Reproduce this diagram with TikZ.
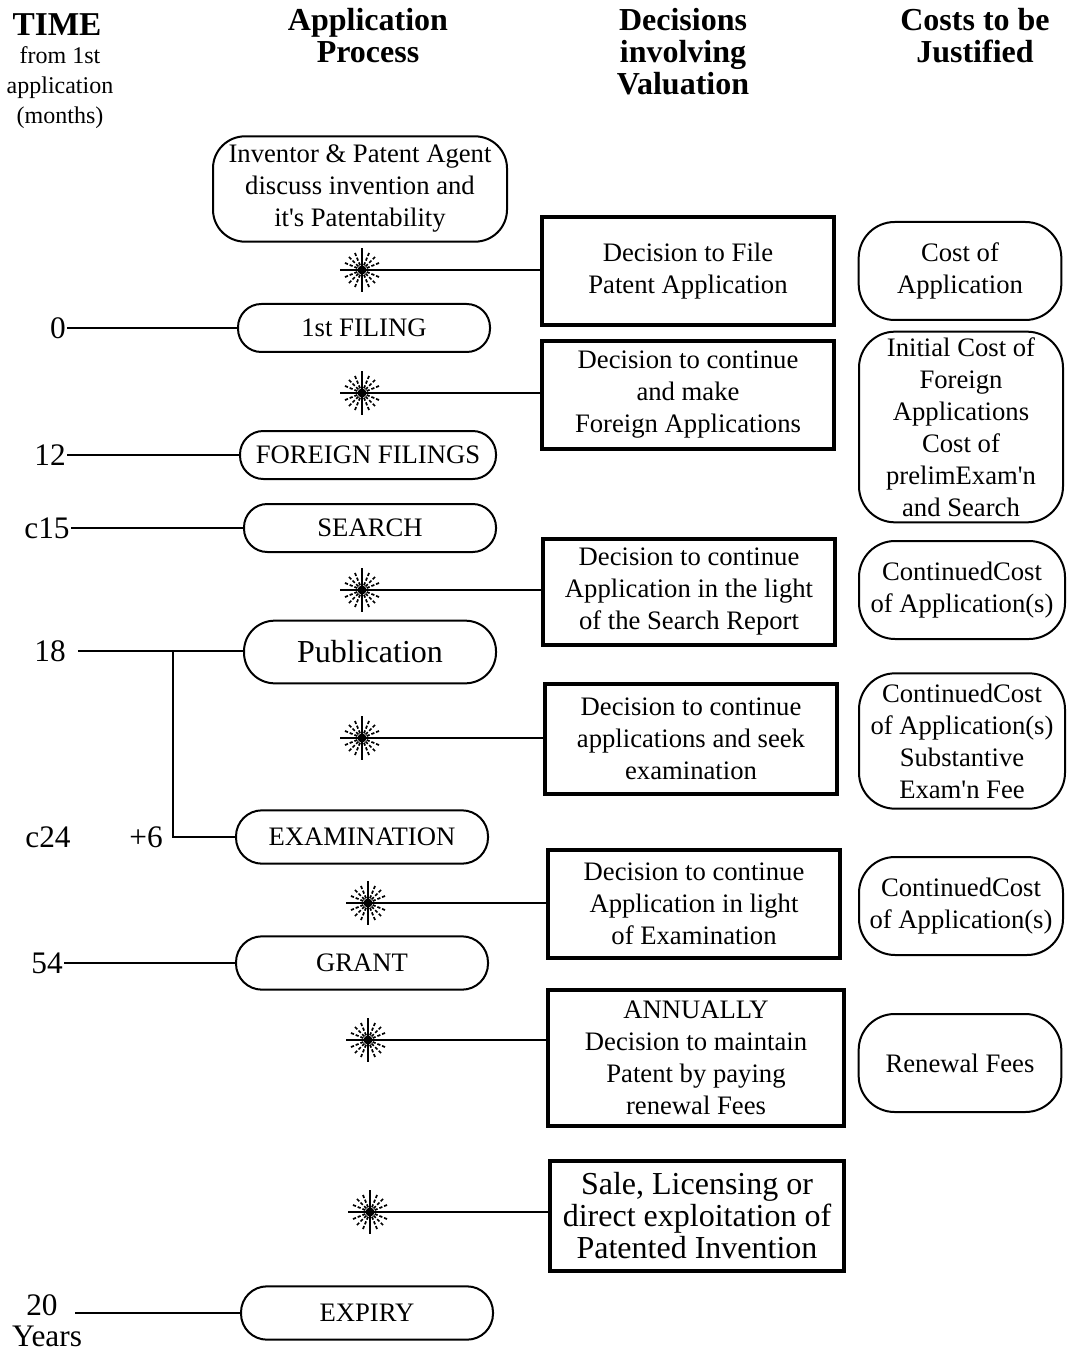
\documentclass[tikz,border=0pt]{standalone}
\usepackage{fontspec}
\setmainfont{Liberation Serif}
\usetikzlibrary{positioning}

% sunburst marking a decision point on the time line
\newcommand{\burst}[1]{%
  \foreach \a in {0,90,180,270}{\draw[line width=1.5pt] (#1) -- ++(\a:22);}
  \foreach \a in {22.5,45,67.5,112.5,135,157.5,202.5,225,247.5,292.5,315,337.5}{%
    \draw[line width=1.3pt, dash pattern=on 2.4pt off 1.4pt] (#1) -- ++(\a:19);}
  \fill (#1) circle (4.5);
}

\begin{document}
\begin{tikzpicture}[
    x=0.75pt, y=-0.75pt, % work in pixels of the page
    proc/.style  = {draw, line width=1.5pt, rounded corners=17.5pt, minimum width=189pt,
                    minimum height=36pt, inner sep=0pt, align=center,
                    font=\fontsize{20}{24}\selectfont},
    tallproc/.style = {proc, rounded corners=19.5pt, minimum height=40pt},
    dec/.style   = {draw, line width=3pt, minimum width=219pt, minimum height=81pt,
                    inner sep=0pt, align=center, font=\fontsize{20}{24}\selectfont},
    cost/.style  = {draw, line width=1.5pt, rounded corners=27pt, minimum width=152pt,
                    minimum height=73.5pt, inner sep=0pt, align=center,
                    font=\fontsize{20}{24}\selectfont},
    hdr/.style   = {align=center, font=\bfseries\fontsize{24}{24}\selectfont},
    tlab/.style  = {inner sep=1pt, font=\fontsize{23.5}{24}\selectfont},
    conn/.style  = {line width=1.5pt}
  ]
  \useasboundingbox (0,0) rectangle (1067,1351);

  % ===== Headers =====
  \node[hdr, font=\bfseries\fontsize{25}{24}\selectfont] (hTime) at (57,25) {TIME};
  \node[align=center, font=\fontsize{18}{22.5}\selectfont] (hTimeSub) at (60,88)
       {from 1st\\application\\(months)};
  \node[hdr] (hProc) at (368,36) {Application\\Process};
  \node[hdr] (hDec)  at (683,52) {Decisions\\involving\\Valuation};
  \node[hdr] (hCost) at (975,36) {Costs to be\\Justified};

  % ===== Application process =====
  \node[proc, rounded corners=24pt, minimum width=220.5pt, minimum height=79pt]
       (p0) at (360,189)
       {Inventor \& Patent Agent\\discuss invention and\\it\textquotesingle s Patentability};
  \node[proc] (p1) at (364,328) {1st FILING};
  \node[proc, minimum width=192pt] (p2) at (368,455) {FOREIGN FILINGS};
  \node[proc] (p3) at (370,528) {SEARCH};
  \node[proc, rounded corners=23pt, minimum height=47pt,
        font=\fontsize{24}{24}\selectfont] (p4) at (370,652) {Publication};
  \node[tallproc] (p5) at (362,837) {EXAMINATION};
  \node[tallproc] (p6) at (362,963) {GRANT};
  \node[tallproc] (p7) at (367,1313) {EXPIRY};

  % ===== Time axis =====
  \node[tlab] (t0)   at (58,328)  {0};
  \node[tlab] (t12)  at (50,455)  {12};
  \node[tlab] (t15)  at (47,528)  {c15};
  \node[tlab] (t18)  at (50,651)  {18};
  \node[tlab] (t24)  at (48,837)  {c24};
  \node[tlab] (t6)   at (146,837) {+6};
  \node[tlab] (t54)  at (47,963)  {54};
  \node[tlab] (t20)  at (42,1305) {20};
  \node[tlab] (tyrs) at (47,1336) {Years};

  \draw[conn] (t0.east)  -- (t0.east -| p1.west);
  \draw[conn] (t12.east) -- (t12.east -| p2.west);
  \draw[conn] (t15.east) -- (t15.east -| p3.west);
  \draw[conn, shorten <=8pt] (t18.east) -- (t18.east -| p4.west);
  \draw[conn] (t54.east) -- (t54.east -| p6.west);
  \coordinate (bend) at (173,651);
  \draw[conn] (bend) |- (p5.west);
  \coordinate (t20e) at (75,1313);
  \draw[conn] (t20e) -- (p7.west);

  % ===== Decisions =====
  \node[dec] (d1) at (688,271)
       {Decision to File\\Patent Application};
  \node[dec] (d2) at (688,395)
       {Decision to continue\\and make\\ Foreign Applications};
  \node[dec, minimum height=79.5pt] (d3) at (689,592)
       {Decision to continue\\Application in the light\\of the Search Report};
  \node[dec, minimum height=82pt] (d4) at (691,739)
       {Decision to continue\\applications and seek\\examination};
  \node[dec] (d5) at (694,904)
       {Decision to continue\\Application in light\\of Examination};
  \node[dec, minimum width=222pt, minimum height=102pt] (d6) at (696,1058)
       {ANNUALLY\\Decision to maintain\\Patent by paying\\renewal Fees};
  \node[dec, minimum width=220.5pt, minimum height=82pt,
        font=\fontsize{24}{24}\selectfont] (d7) at (697,1216)
       {Sale, Licensing or\\direct exploitation of\\Patented Invention};

  % ===== Decision points =====
  \coordinate (s1) at (362,270);
  \coordinate (s2) at (362,393);
  \coordinate (s3) at (362,590);
  \coordinate (s4) at (362,738);
  \coordinate (s5) at (368,903);
  \coordinate (s6) at (368,1040);
  \coordinate (s7) at (370,1212);
  \foreach \s/\d in {s1/d1, s2/d2, s3/d3, s4/d4, s5/d5, s6/d6, s7/d7}{
    \burst{\s}
    \draw[conn] (\s) -- (\s -| \d.west);
  }

  % ===== Costs =====
  \node[cost] (c1) at (960,271) {Cost of\\Application};
  \node[cost, minimum width=153pt, minimum height=143pt] (c2) at (961,427)
       {Initial Cost of\\Foreign\\Applications\\Cost of\\prelimExam\textquotesingle n\\and Search};
  \node[cost, minimum width=154.5pt] (c3) at (962,590)
       {ContinuedCost\\of Application(s)};
  \node[cost, minimum width=154.5pt, minimum height=101.5pt] (c4) at (962,741)
       {ContinuedCost\\of Application(s)\\Substantive\\Exam\textquotesingle n Fee};
  \node[cost, minimum width=153pt] (c5) at (961,906)
       {ContinuedCost\\of Application(s)};
  \node[cost] (c6) at (960,1063) {Renewal Fees};

\end{tikzpicture}
\end{document}
